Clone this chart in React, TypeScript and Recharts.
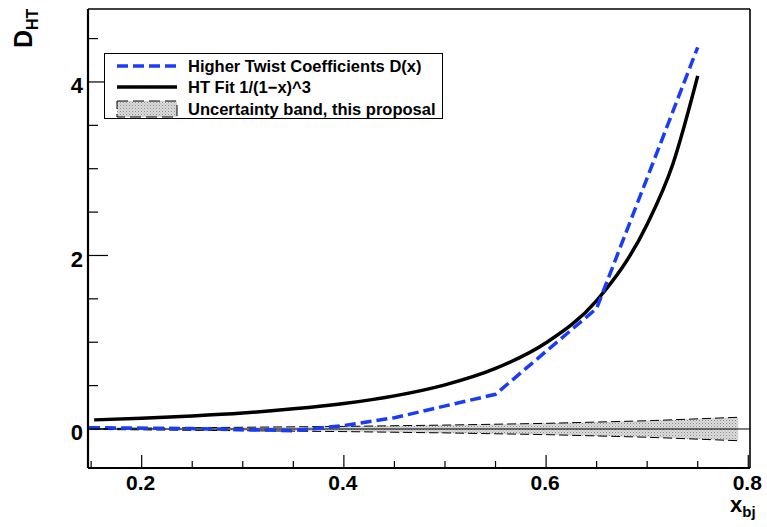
import React from 'react';
import { ComposedChart, Line, Area, XAxis, YAxis, ReferenceLine, Legend } from 'recharts';

// ---- data ----
const blueX = [0.148, 0.25, 0.35, 0.4, 0.45, 0.55, 0.65, 0.75];
const blueY = [0.015, 0.005, -0.02, 0.04, 0.13, 0.4, 1.39, 4.4];

const fitX = [0.153, 0.2, 0.25, 0.3, 0.35, 0.4, 0.45, 0.5, 0.55, 0.6, 0.65, 0.7, 0.725, 0.75];
const fitY = [0.105, 0.124, 0.151, 0.185, 0.232, 0.294, 0.382, 0.509, 0.698, 0.994, 1.48, 2.36, 3.04, 4.07];

const bandX = [0.15, 0.2, 0.3, 0.4, 0.5, 0.6, 0.7, 0.79];
const bandLow = [-0.005, -0.01, -0.02, -0.03, -0.045, -0.065, -0.095, -0.135];
const bandHigh = [0.005, 0.01, 0.02, 0.03, 0.045, 0.065, 0.095, 0.135];

const xTicks = [0.15, 0.2, 0.25, 0.3, 0.35, 0.4, 0.45, 0.5, 0.55, 0.6, 0.65, 0.7, 0.75, 0.8];
const xMajor = [0.2, 0.4, 0.6, 0.8];
const yTicks = [0, 0.5, 1, 1.5, 2, 2.5, 3, 3.5, 4, 4.5];
const yMajor = [0, 2, 4];

const legendLabels = ['Higher Twist Coefficients D(x)', 'HT Fit 1/(1\u2212x)^3', 'Uncertainty band, this proposal'];

const X_DOMAIN: [number, number] = [0.1469, 0.8017];
const Y_DOMAIN: [number, number] = [-0.4496, 4.841];

const FONT = '"Liberation Sans", Arial, Helvetica, sans-serif';
const BLUE = '#1a3cfa';

const blueData = blueX.map((x, i) => ({ x, y: blueY[i] }));
const fitData = fitX.map((x, i) => ({ x, y: fitY[i] }));
const bandData = bandX.map((x, i) => ({ x, range: [bandLow[i], bandHigh[i]] }));

const isIn = (arr: number[], v: number) => arr.some((m) => Math.abs(m - v) < 1e-6);

const YTick = (props: any) => {
  const { x, y, payload } = props;
  const v = payload.value;
  const major = isIn(yMajor, v);
  return (
    <g>
      <line x1={x} y1={y} x2={x + (major ? 20 : 10)} y2={y} stroke="#000" strokeWidth={1.2} />
      {major && (
        <text x={x - 5} y={y + 4} textAnchor="end" dominantBaseline="central" fontSize={22} fontWeight="bold" fontFamily={FONT} fill="#000">
          {String(v)}
        </text>
      )}
    </g>
  );
};

const XTick = (props: any) => {
  const { x, y, payload } = props;
  const v = payload.value;
  const major = isIn(xMajor, v);
  return (
    <g>
      <line x1={x} y1={y} x2={x} y2={y - (major ? 13 : 7)} stroke="#000" strokeWidth={1.2} />
      {major && (
        <text x={x - 1} y={y + 14} textAnchor="middle" dominantBaseline="central" fontSize={21} fontWeight="bold" fontFamily={FONT} fill="#000">
          {String(v)}
        </text>
      )}
    </g>
  );
};

const XTitle = () => (
  <text x={730} y={512} fontFamily={FONT} fontWeight="bold" fill="#000">
    <tspan fontSize={22}>x</tspan>
    <tspan fontSize={15} dy={5}>bj</tspan>
  </text>
);

const YTitle = () => (
  <text transform="translate(32,48) rotate(-90)" fontFamily={FONT} fontWeight="bold" fill="#000">
    <tspan fontSize={25}>D</tspan>
    <tspan fontSize={16} dy={6}>HT</tspan>
  </text>
);

const LegendBox = () => {
  const rowY = [12, 33, 55];
  return (
    <div
      style={{
        position: 'relative',
        width: 339,
        height: 66,
        background: '#fff',
        border: '1px solid #000',
        boxSizing: 'border-box',
        fontFamily: FONT,
      }}
    >
      <svg width={339} height={66} style={{ position: 'absolute', left: 0, top: 0 }}>
        <defs>
          <pattern id="legPat" width="3" height="3" patternUnits="userSpaceOnUse">
            <rect width="3" height="3" fill="#dcdcdc" />
            <rect width="1" height="1" fill="#8a8a8a" />
            <rect x="1.5" y="1.5" width="1" height="1" fill="#a8a8a8" />
          </pattern>
        </defs>
        <line x1={12} y1={rowY[0]} x2={72} y2={rowY[0]} stroke={BLUE} strokeWidth={3.5} strokeDasharray="11 5" />
        <line x1={12} y1={rowY[1]} x2={72} y2={rowY[1]} stroke="#000" strokeWidth={3.5} />
        <rect x={12} y={rowY[2] - 8} width={60} height={16} fill="url(#legPat)" stroke="#000" strokeWidth={1} strokeDasharray="11 5" />
        {legendLabels.map((t, i) => (
          <text key={t} x={83} y={rowY[i]} dominantBaseline="central" fontSize={16.5} fontWeight="bold" fontFamily={FONT} fill="#000">
            {t}
          </text>
        ))}
      </svg>
    </div>
  );
};

export default function App() {
  return (
    <div style={{ position: 'absolute', left: 0, top: 0, width: 767, height: 527, background: '#fff' }}>
      <ComposedChart width={767} height={527} margin={{ top: 9, right: 17, bottom: 0, left: 0 }}>
        <defs>
          <pattern id="bandPat" width="3" height="3" patternUnits="userSpaceOnUse">
            <rect width="3" height="3" fill="#dcdcdc" />
            <rect width="1" height="1" fill="#8a8a8a" />
            <rect x="1.5" y="1.5" width="1" height="1" fill="#a8a8a8" />
          </pattern>
        </defs>
        <XAxis
          type="number"
          dataKey="x"
          domain={X_DOMAIN}
          allowDataOverflow
          ticks={xTicks}
          interval={0}
          height={59}
          tickSize={0}
          tickMargin={0}
          tickLine={false}
          tick={<XTick />}
          axisLine={{ stroke: '#000', strokeWidth: 2.2 }}
          label={<XTitle />}
        />
        <YAxis
          type="number"
          domain={Y_DOMAIN}
          allowDataOverflow
          ticks={yTicks}
          interval={0}
          width={88}
          tickSize={0}
          tickMargin={0}
          tickLine={false}
          tick={<YTick />}
          axisLine={{ stroke: '#000', strokeWidth: 2.2 }}
          label={<YTitle />}
        />
        <ReferenceLine y={Y_DOMAIN[1]} stroke="#000" strokeWidth={1.6} />
        <ReferenceLine x={X_DOMAIN[1]} stroke="#000" strokeWidth={1.6} />
        <Area
          data={bandData}
          dataKey="range"
          type="linear"
          stroke="#000"
          strokeWidth={1}
          strokeDasharray="9 4"
          fill="url(#bandPat)"
          fillOpacity={1}
          isAnimationActive={false}
          legendType="none"
        />
        <ReferenceLine y={0} stroke="#000" strokeWidth={1} />
        <Line
          data={fitData}
          dataKey="y"
          type="monotone"
          stroke="#000"
          strokeWidth={3.5}
          dot={false}
          activeDot={false}
          isAnimationActive={false}
        />
        <Line
          data={blueData}
          dataKey="y"
          type="linear"
          stroke={BLUE}
          strokeWidth={3.5}
          strokeDasharray="11 5"
          dot={false}
          activeDot={false}
          isAnimationActive={false}
        />
        <Legend
          layout="vertical"
          align="center"
          verticalAlign="middle"
          content={() => <LegendBox />}
          wrapperStyle={{ position: 'absolute', left: 104, top: 53, width: 339, height: 66 }}
        />
      </ComposedChart>
    </div>
  );
}
